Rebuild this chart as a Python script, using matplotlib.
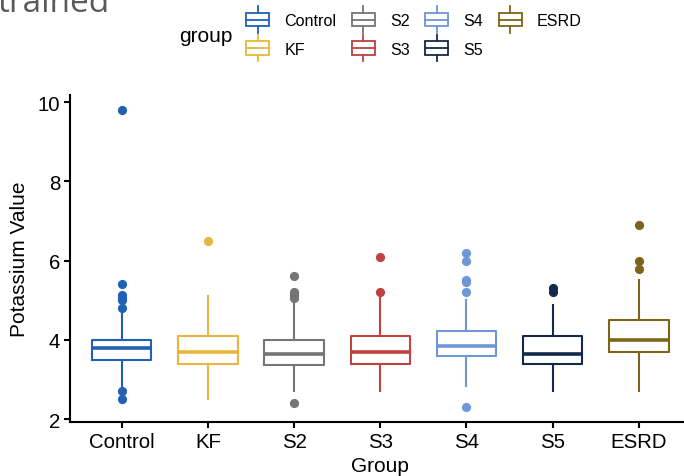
import matplotlib
matplotlib.use("Agg")
import matplotlib.pyplot as plt
from matplotlib.legend_handler import HandlerBase
from matplotlib.lines import Line2D
from matplotlib.patches import Patch, Rectangle

plt.rcParams["font.family"] = ["Liberation Sans", "DejaVu Sans"]

# values
groups = ["Control", "KF", "S2", "S3", "S4", "S5", "ESRD"]
colors = ["#2160B3", "#E8B63C", "#757575", "#BF4140", "#6F96D6", "#13294B", "#7C6418"]
q1 = [3.5, 3.4, 3.37, 3.4, 3.6, 3.4, 3.7]
medians = [3.8, 3.7, 3.65, 3.7, 3.85, 3.65, 4.0]
q3 = [4.0, 4.1, 4.0, 4.1, 4.22, 4.1, 4.5]
whisker_low = [2.8, 2.5, 2.7, 2.7, 2.83, 2.7, 2.7]
whisker_high = [4.75, 5.1, 5.0, 5.15, 5.0, 4.88, 5.5]
outliers = [
    [2.5, 2.7, 4.8, 5.0, 5.05, 5.13, 5.4, 9.8],
    [6.5],
    [2.4, 5.05, 5.1, 5.15, 5.2, 5.6],
    [5.2, 6.1],
    [2.3, 5.2, 5.45, 5.5, 6.0, 6.2],
    [5.2, 5.3],
    [5.8, 6.0, 6.9],
]
y_ticks = [2, 4, 6, 8, 10]


class BoxKeyHandler(HandlerBase):
    """Draws a small boxplot glyph as a legend key."""

    def create_artists(self, legend, orig_handle, xdescent, ydescent,
                       width, height, fontsize, trans):
        color = orig_handle.get_edgecolor()
        x0 = -xdescent
        cy = -ydescent + height / 2
        cx = x0 + width / 2
        half_box, half_whisk = 5.0, 9.5
        box = Rectangle((x0, cy - half_box), width, 2 * half_box, fill=False,
                        edgecolor=color, linewidth=1.3, transform=trans)
        mid = Line2D([x0, x0 + width], [cy, cy], color=color, linewidth=1.3,
                     transform=trans)
        top = Line2D([cx, cx], [cy + half_box, cy + half_whisk], color=color,
                     linewidth=1.3, transform=trans)
        bottom = Line2D([cx, cx], [cy - half_box, cy - half_whisk], color=color,
                        linewidth=1.3, transform=trans)
        return [box, mid, top, bottom]


fig = plt.figure(figsize=(6.84, 4.77), dpi=100)
ax = fig.add_axes([70 / 684, 54 / 477, 620.6 / 684, 326.7 / 477])

stats = []
for i, name in enumerate(groups):
    stats.append({
        "label": name,
        "q1": q1[i],
        "med": medians[i],
        "q3": q3[i],
        "whislo": whisker_low[i],
        "whishi": whisker_high[i],
        "fliers": outliers[i],
    })

parts = ax.bxp(stats, positions=range(len(groups)), widths=0.69,
               showcaps=False, patch_artist=False)

for i, color in enumerate(colors):
    parts["boxes"][i].set(color=color, linewidth=1.5)
    parts["medians"][i].set(color=color, linewidth=2.6)
    for whisker in parts["whiskers"][2 * i:2 * i + 2]:
        whisker.set(color=color, linewidth=1.5)
    parts["fliers"][i].set(marker="o", markerfacecolor=color,
                           markeredgecolor=color, markersize=5.6)

ax.set_xlim(-0.6, len(groups) - 0.4)
ax.set_ylim(1.925, 10.175)
ax.set_yticks(y_ticks)
ax.set_xticks(range(len(groups)))
ax.set_xticklabels(groups)

for side in ["top", "right"]:
    ax.spines[side].set_visible(False)
for side in ["left", "bottom"]:
    ax.spines[side].set_linewidth(1.5)
ax.tick_params(axis="both", labelsize=14.7, width=1.5, length=4, pad=3,
               colors="black")

ax.set_xlabel("Group", fontsize=15, labelpad=4)
ax.set_ylabel("Potassium Value", fontsize=15, labelpad=6)

handles = [Patch(facecolor="none", edgecolor=c, label=g)
           for g, c in zip(groups, colors)]
fig.legend(handles=handles, labels=groups, ncol=4, frameon=False,
           loc="center left", bbox_to_anchor=(246 / 684, 1 - 36 / 477),
           borderpad=0, borderaxespad=0, fontsize=11.6,
           handlelength=1.43, handletextpad=0.95, columnspacing=0.95,
           labelspacing=0.85, handler_map={Patch: BoxKeyHandler()})
fig.text(179 / 684, 1 - 37 / 477, "group", fontsize=15, va="center",
         ha="left")

# clipped title remnant at the top-left of the reference
fig.text(-0.003, 1 - 12 / 477, "trained", fontsize=24, color="#5a5a5a",
         va="baseline", ha="left", family=["Open Sans", "DejaVu Sans"])

fig.savefig("out.png", dpi=100)
